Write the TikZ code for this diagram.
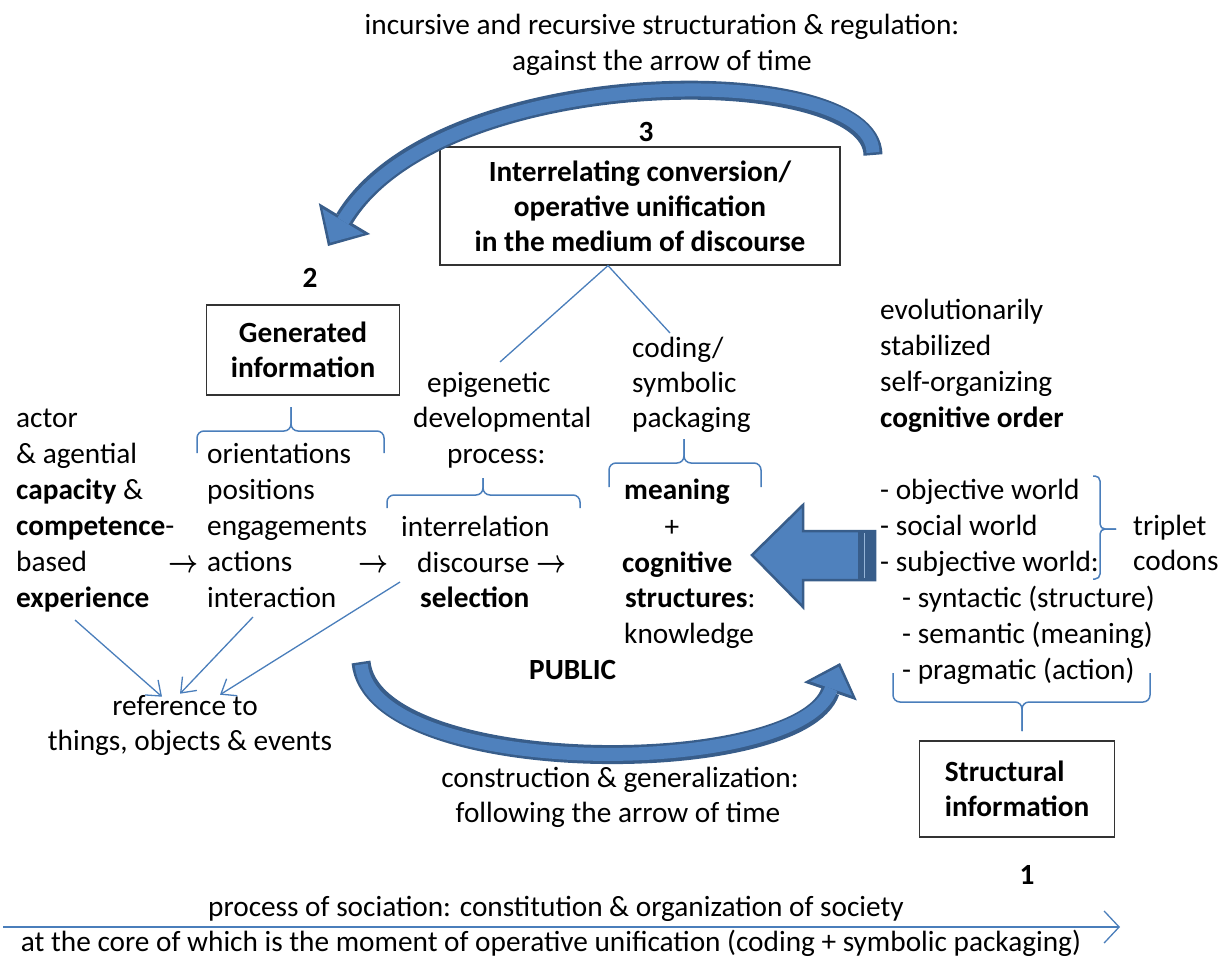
\documentclass[tikz,border=0pt]{standalone}
\usepackage{fontspec}
\setmainfont{Carlito}
\usetikzlibrary{arrows.meta}

\definecolor{lineblue}{HTML}{4A7EBB}
\definecolor{arrowfill}{HTML}{4F81BD}
\definecolor{arrowedge}{HTML}{385D8A}
\newcommand\pfeil{\scalebox{1.05}[1.3]{\boldmath$\rightarrow$}}

\begin{document}
\begin{tikzpicture}[x=1pt, y=-1pt, font=\fontsize{29.3}{36}\selectfont]
  % Stile fuer Texte, Kaesten und Linien
  \tikzset{
    txt/.style={anchor=base west, inner sep=0pt}, % linksbuendige Zeile
    ctxt/.style={anchor=base, inner sep=0pt}, % zentrierte Zeile
    infobox/.style={draw=black!80, line width=1.2pt, inner sep=0pt,
      font=\fontsize{29.3}{35}\selectfont\bfseries},
    blueline/.style={draw=lineblue, line width=1.3pt},
    brc/.style={draw=lineblue, line width=1.5pt, rounded corners=7pt},
    refarrow/.style={blueline, -{Straight Barb[length=13pt,width=20pt]}},
    bandout/.style={line width=19pt, arrowedge},
    bandin/.style={line width=13pt, arrowfill, shorten <=2.5pt}
  }
  \useasboundingbox (0,0) rectangle (1230,961);

  % Ueberschrift oben
  \node[ctxt] (top1) at (662,34) {incursive and recursive structuration \& regulation:};
  \node[ctxt] (top2) at (662,70) {against the arrow of time};

  % Kaesten 1, 2, 3
  \node[ctxt, font=\fontsize{29.3}{36}\selectfont\bfseries] (n3) at (646,141) {3};
  \node[infobox, align=center, minimum width=400pt, minimum height=118pt] (conv) at (640,206)
    {Interrelating conversion/\\operative unification\\in the medium of discourse};
  \node[ctxt, font=\fontsize{29.3}{36}\selectfont\bfseries] (n2) at (310,287) {2};
  \node[infobox, align=center, minimum width=193pt, minimum height=90pt] (gen) at (303,350)
    {Generated\\information};
  \node[infobox, align=left, minimum width=195pt, minimum height=96pt] (struct) at (1017,789)
    {Structural\\information};
  \node[ctxt, font=\fontsize{29.3}{36}\selectfont\bfseries] (n1) at (1027,884) {1};

  % linke Spalten
  \foreach \t [count=\i] in {actor, \& agential, \textbf{capacity} \&,
      \textbf{competence}-, based, \textbf{experience}}
    \node[txt] (act\i) at (16,{427+36*(\i-1)}) {\t};
  \foreach \t [count=\i] in {orientations, positions, engagements, actions, interaction}
    \node[txt] (ori\i) at (207,{463+36*(\i-1)}) {\t};
  \node[txt] (arr1) at (168,572) {\pfeil};
  \node[txt] (arr2) at (358,572) {\pfeil};

  % mittlere Spalte
  \node[txt] (epi) at (427,392) {epigenetic};
  \node[txt] (dev) at (413,427) {developmental};
  \node[txt] (proc) at (447,463) {process:};
  \node[txt] (intr) at (401,536) {interrelation};
  \node[txt] (disc) at (417,572) {discourse \pfeil};
  \node[txt] (sel) at (420,607) {\textbf{selection}};

  \foreach \t [count=\i] in {coding/, symbolic, packaging}
    \node[txt] (cod\i) at (632,{357+35*(\i-1)}) {\t};
  \node[ctxt] (mean) at (677,499) {\textbf{meaning}};
  \node[ctxt] (plus) at (672,536) {+};
  \node[txt] (cog) at (622,572) {\textbf{cognitive}};
  \node[txt] (struc) at (625,607) {\textbf{structures}:};
  \node[txt] (know) at (624,643) {knowledge};
  \node[txt] (pub) at (529,679) {\textbf{PUBLIC}};

  % rechte Spalte
  \foreach \t [count=\i] in {evolutionarily, stabilized, self-organizing, \textbf{cognitive order}}
    \node[txt] (evo\i) at (880,{319+36*(\i-1)}) {\t};
  \foreach \t [count=\i] in {- objective world, - social world, - subjective world:}
    \node[txt] (wld\i) at (880,{499+36*(\i-1)}) {\t};
  \foreach \t [count=\i] in {- syntactic (structure), - semantic (meaning), - pragmatic (action)}
    \node[txt] (sem\i) at (902,{607+36*(\i-1)}) {\t};
  \node[txt] (trip) at (1133,535) {triplet};
  \node[txt] (codon) at (1133,570) {codons};

  % unten
  \node[ctxt] (ref1) at (185,715) {reference to};
  \node[ctxt] (ref2) at (190,750) {things, objects \& events};
  \node[ctxt] (cons1) at (620,787) {construction \& generalization:};
  \node[ctxt] (cons2) at (618,822) {following the arrow of time};
  \node[ctxt] (soc1) at (556,916) {process of sociation: constitution \& organization of society};
  \node[ctxt] (soc2) at (551,951) {at the core of which is the moment of operative unification (coding + symbolic packaging)};

  % Klammern
  \foreach \xa/\xb/\xm/\ye/\ym/\yt in {197/384/291/453/431/407, 387/580/483/508/495/478,
      609/761/684/487/463/439, 893/1150/1022/673/702/731} {
    \draw[brc] (\xa,\ye) |- (\xm,\ym) -- (\xm,\yt);
    \draw[brc] (\xb,\ye) |- (\xm,\ym) -- (\xm,\yt);
  }
  \draw[brc, rounded corners=5pt] (1093,476) -| (1100,529) -- (1116,529);
  \draw[brc, rounded corners=5pt] (1093,579) -| (1100,529) -- (1116,529);

  % Linien vom Kasten 3
  \coordinate (epitop) at (500,362);
  \coordinate (codtop) at (670,333);
  \draw[blueline] (epitop) -- ([xshift=-32pt]conv.south) -- (codtop);

  % Pfeile zur Referenz
  \coordinate (expfoot) at (75,620);
  \coordinate (intfoot) at (253,617);
  \coordinate (selfoot) at (400,582);
  \draw[refarrow] (expfoot) -- ([xshift=-23pt, yshift=-2pt]ref1.north);
  \draw[refarrow] (intfoot) -- ([xshift=-5pt, yshift=1pt]ref1.north);
  \draw[refarrow] (selfoot) -- ([xshift=35pt, yshift=0pt]ref1.north);

  % Blockpfeil nach links
  \draw[fill=arrowfill, draw=arrowedge, line width=2.5pt, line join=miter]
    (752,555) -- (803,505) -- (803,531) -- (875,531) -- (875,580) -- (803,580) -- (803,607) -- cycle;
  \fill[arrowedge] (858,532) rectangle (875,579);
  \draw[arrowfill!60, line width=1pt] (864,533) -- (864,578);

  % gebogener Pfeil oben (gegen die Zeit)
  \coordinate (topstart) at (873,155);
  \coordinate (toptip) at (328,246);
  \draw[bandout, -{Triangle[length=32pt,width=60pt,line width=0pt 0 0]}]
    (topstart) .. controls (872,60) and (440,60) .. (toptip);
  \draw[bandin, shorten >=4pt, -{Triangle[length=25pt,width=48pt,line width=0pt 0 0]}]
    (topstart) .. controls (872,60) and (440,60) .. (toptip);

  % gebogener Pfeil unten (mit der Zeit)
  \coordinate (botstart) at (361,662);
  \coordinate (bottip) at (840,663);
  \draw[bandout, -{Triangle[length=30pt,width=56pt,line width=0pt 0 0]}]
    (botstart) .. controls (372,780) and (800,780) .. (bottip);
  \draw[bandin, shorten >=4pt, -{Triangle[length=23pt,width=44pt,line width=0pt 0 0]}]
    (botstart) .. controls (372,780) and (800,780) .. (bottip);

  % Zeitachse
  \coordinate (socstart) at (3,927);
  \coordinate (socend) at (1120,927);
  \draw[blueline, -{Straight Barb[length=15pt,width=32pt]}] (socstart) -- (socend);
\end{tikzpicture}
\end{document}
